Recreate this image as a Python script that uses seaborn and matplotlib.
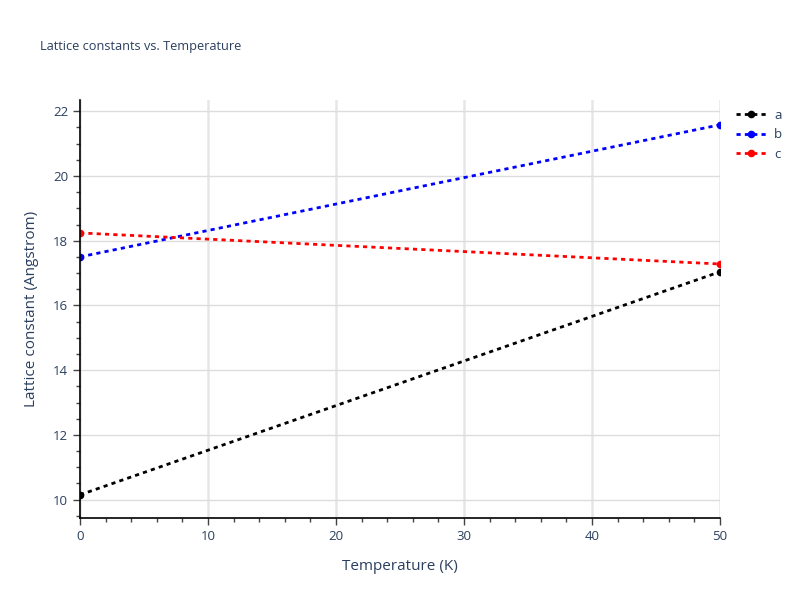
import pandas as pd
import numpy as np
import matplotlib
matplotlib.use("Agg")
import matplotlib.pyplot as plt
import seaborn as sns
from matplotlib.ticker import MultipleLocator

# data
temperature = [0, 50]
a_vals = [10.15, 17.04]
b_vals = [17.50, 21.58]
c_vals = [18.24, 17.28]
series_names = ['a', 'b', 'c']
series_colors = ['black', 'blue', 'red']

df = pd.DataFrame({
    'Temperature': temperature * 3,
    'value': a_vals + b_vals + c_vals,
    'series': [s for s in series_names for _ in temperature],
})

sns.set_style("white")
plt.rcParams['font.family'] = ['Open Sans', 'DejaVu Sans']
text_col = '#2a3f5f'

fig = plt.figure(figsize=(8, 6), dpi=100)
ax = fig.add_axes([0.1, 0.137, 0.8, 0.696])

for name, col in zip(series_names, series_colors):
    sub = df[df['series'] == name]
    sns.lineplot(data=sub, x='Temperature', y='value', ax=ax, color=col,
                 linestyle=(0, (1.5, 1.5)), linewidth=2, marker='o',
                 markersize=5.5, markeredgewidth=0, label=name)

ax.set_xlim(0, 50)
ax.set_ylim(9.44, 22.34)
ax.xaxis.set_major_locator(MultipleLocator(10))
ax.xaxis.set_minor_locator(MultipleLocator(2))
ax.yaxis.set_major_locator(MultipleLocator(2))
ax.yaxis.set_minor_locator(MultipleLocator(0.5))
ax.grid(which='major', axis='x', color='#e6e6e6', linewidth=1.8)
ax.grid(which='major', axis='y', color='#dddddd', linewidth=1)
ax.set_axisbelow(True)

for s in ['top', 'right']:
    ax.spines[s].set_visible(False)
for s in ['left', 'bottom']:
    ax.spines[s].set_color('black')
    ax.spines[s].set_linewidth(1.2)

ax.tick_params(which='major', direction='out', length=5, width=1, color='#444444',
               labelsize=9.5, labelcolor=text_col, left=True, bottom=True)
ax.tick_params(which='minor', direction='out', length=3, width=1, color='#444444',
               left=True, bottom=True)

ax.set_xlabel('Temperature (K)', fontsize=11, color=text_col, labelpad=12)
ax.set_ylabel('Lattice constant (Angstrom)', fontsize=11, color=text_col, labelpad=10)
fig.text(0.05, 0.923, 'Lattice constants vs. Temperature', fontsize=9.2,
         color=text_col, va='center', ha='left')

leg = ax.legend(loc='upper left', bbox_to_anchor=(1.006, 1.008), frameon=False,
                fontsize=9.5, handlelength=2.3, handletextpad=0.6, labelspacing=0.5)
for t in leg.get_texts():
    t.set_color(text_col)

fig.savefig('out.png', dpi=100)
